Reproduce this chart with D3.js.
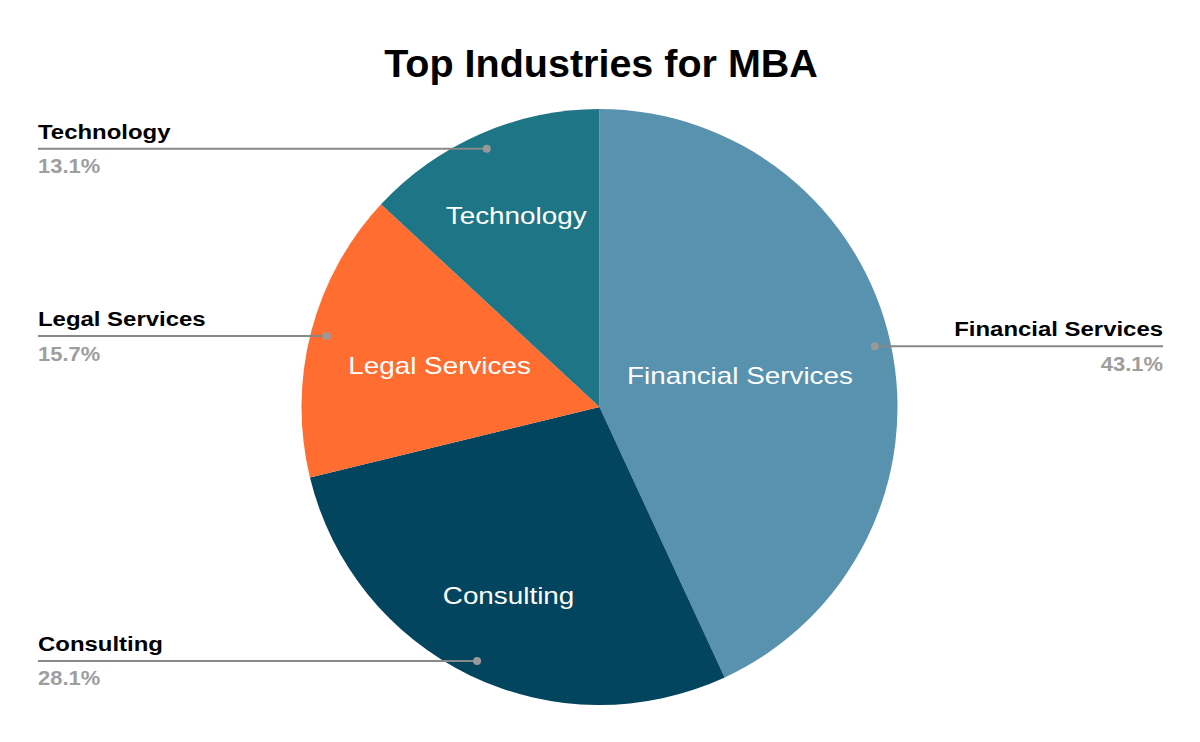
<!DOCTYPE html>
<html>
<head>
<meta charset="utf-8">
<script src="https://cdn.jsdelivr.net/npm/d3@7"></script>
<style>
  html, body { margin: 0; padding: 0; background: #fff; }
  svg { display: block; font-family: "Liberation Sans", Arial, sans-serif; }
</style>
</head>
<body>
<svg id="chart" width="1200" height="742"></svg>
<script>
const title = "Top Industries for MBA";
const categories = ["Financial Services", "Consulting", "Legal Services", "Technology"];
const values = [43.1, 28.1, 15.7, 13.1];
const colors = ["#5992AE", "#03445E", "#FF6D31", "#1E7585"];

const width = 1200, height = 742;
const cx = 599.5, cy = 407, R = 298;

// horizontal stretch of the reference's text rendering
const innerSX = 1.16, labelSX = 1.14, pctSX = 1.07;

const svg = d3.select("#chart");

svg.append("text")
  .attr("x", 601).attr("y", 77)
  .attr("text-anchor", "middle")
  .attr("font-size", 39.5).attr("font-weight", "bold").attr("fill", "#000")
  .text(title);

const data = categories.map((c, i) => ({ name: c, value: values[i], color: colors[i] }));
const pie = d3.pie().value(d => d.value).sort(null);
const arcs = pie(data);
const arc = d3.arc().innerRadius(0).outerRadius(R);

const g = svg.append("g").attr("transform", `translate(${cx},${cy})`);

g.selectAll("path.slice").data(arcs).join("path")
  .attr("class", "slice")
  .attr("d", arc)
  .attr("fill", d => d.data.color);

// inner labels: along mid-angle so the far corner of the text box stays inside ~0.865R
const L = R * 0.865;
g.selectAll("text.inner").data(arcs).join("text")
  .attr("class", "inner")
  .attr("text-anchor", "middle")
  .attr("dominant-baseline", "central")
  .attr("font-size", 24)
  .attr("fill", "#fff")
  .text(d => d.data.name)
  .each(function(d) {
    const hw = this.getComputedTextLength() * innerSX / 2;
    const hh = 16;
    const a = (d.startAngle + d.endAngle) / 2;
    const s = Math.sin(a), c = Math.cos(a);
    const b = Math.abs(s) * hw + Math.abs(c) * hh;
    const r = -b + Math.sqrt(b * b - (hw * hw + hh * hh - L * L));
    d3.select(this).attr("transform", `translate(${r * s},${-r * c}) scale(${innerSX},1)`);
  });

// outside labels with leader lines
const dotR = R * 0.946;
const leftX = 38, rightX = 1163;
const ext = svg.append("g");
arcs.forEach(d => {
  const a = (d.startAngle + d.endAngle) / 2;
  const px = cx + dotR * Math.sin(a), py = cy - dotR * Math.cos(a);
  const right = Math.sin(a) > 0;
  const ex = right ? rightX : leftX;
  ext.append("line")
    .attr("x1", px).attr("y1", py).attr("x2", ex).attr("y2", py)
    .attr("stroke", "#888").attr("stroke-width", 2);
  ext.append("circle")
    .attr("cx", px).attr("cy", py).attr("r", 4)
    .attr("fill", "#999");
  ext.append("text")
    .attr("transform", `translate(${ex},${py - 10}) scale(${labelSX},1)`)
    .attr("text-anchor", right ? "end" : "start")
    .attr("font-size", 21).attr("font-weight", "bold").attr("fill", "#000")
    .text(d.data.name);
  ext.append("text")
    .attr("transform", `translate(${ex},${py + 24.5}) scale(${pctSX},1)`)
    .attr("text-anchor", right ? "end" : "start")
    .attr("font-size", 20.5).attr("font-weight", "bold").attr("fill", "#9E9E9E")
    .text(d3.format(".1f")(d.data.value) + "%");
});
</script>
</body>
</html>
